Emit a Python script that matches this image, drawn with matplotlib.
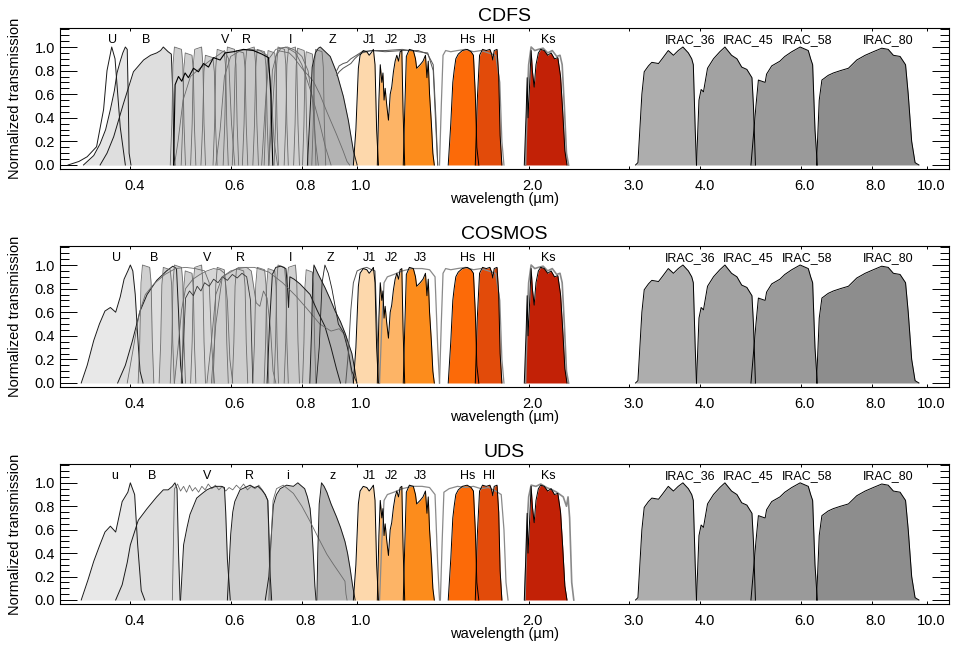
import matplotlib.pyplot as plt
from matplotlib.ticker import FixedLocator, FixedFormatter, MultipleLocator, NullLocator
from matplotlib.transforms import ScaledTranslation

plt.rcParams['font.family'] = ['Liberation Sans', 'DejaVu Sans']

# axis ticks (wavelength in micron, normalized transmission)
xtick_vals = [0.4, 0.6, 0.8, 1.0, 2.0, 3.0, 4.0, 6.0, 8.0, 10.0]
xtick_text = ['0.4', '0.6', '0.8', '1.0', '2.0', '3.0', '4.0', '6.0', '8.0', '10.0']
ytick_vals = [0.0, 0.2, 0.4, 0.6, 0.8, 1.0]
ytick_text = ['0.0', '0.2', '0.4', '0.6', '0.8', '1.0']

fields = ['CDFS', 'COSMOS', 'UDS']

# ---------------- FourStar medium bands (same in all fields) ----------------
J1_lam = [0.985, 0.995, 1.005, 1.012, 1.025, 1.040, 1.050, 1.058, 1.068, 1.075, 1.082, 1.090]
J1_t = [0.0, 0.30, 0.82, 0.93, 0.97, 0.96, 0.93, 0.95, 0.98, 0.85, 0.30, 0.0]
J2_lam = [1.085, 1.092, 1.098, 1.105, 1.110, 1.115, 1.120, 1.127, 1.135, 1.143, 1.150, 1.158,
          1.166, 1.174, 1.182, 1.190, 1.198, 1.204, 1.212]
J2_t = [0.0, 0.55, 0.85, 0.70, 0.78, 0.55, 0.65, 0.51, 0.38, 0.60, 0.66, 0.79,
        0.88, 0.93, 0.88, 0.96, 0.97, 0.45, 0.0]
J3_lam = [1.205, 1.212, 1.220, 1.235, 1.255, 1.266, 1.272, 1.290, 1.305, 1.318, 1.326,
          1.333, 1.340, 1.350, 1.358, 1.366]
J3_t = [0.0, 0.45, 0.92, 0.98, 0.97, 0.90, 0.82, 0.85, 0.88, 0.93, 0.74, 0.88, 0.60, 0.35, 0.10, 0.0]
Hs_lam = [1.445, 1.460, 1.472, 1.480, 1.490, 1.505, 1.530, 1.560, 1.585, 1.600, 1.612, 1.622, 1.635]
Hs_t = [0.0, 0.35, 0.70, 0.80, 0.90, 0.94, 0.97, 0.98, 0.96, 0.93, 0.60, 0.15, 0.0]
Hl_lam = [1.612, 1.625, 1.640, 1.660, 1.685, 1.710, 1.722, 1.730, 1.740, 1.760, 1.772, 1.782, 1.795]
Hl_t = [0.0, 0.55, 0.93, 0.98, 0.97, 0.98, 0.94, 0.89, 0.97, 0.98, 0.75, 0.25, 0.0]
Ks_lam = [1.965, 1.980, 1.988, 1.995, 2.005, 2.020, 2.030, 2.045, 2.060, 2.080, 2.100, 2.130,
          2.160, 2.190, 2.220, 2.250, 2.275, 2.295, 2.315, 2.335]
Ks_t = [0.0, 0.45, 0.74, 0.40, 0.62, 0.97, 0.80, 0.66, 0.85, 0.95, 0.98, 0.97,
        0.93, 0.95, 0.90, 0.91, 0.75, 0.45, 0.12, 0.0]

# ---------------- IRAC ----------------
I36_lam = [3.08, 3.11, 3.16, 3.19, 3.245, 3.29, 3.38, 3.43, 3.516, 3.59, 3.66, 3.73, 3.813, 3.865,
           3.89, 3.92, 3.94]
I36_t = [0.0, 0.02, 0.60, 0.79, 0.84, 0.87, 0.86, 0.90, 0.97, 0.93, 0.97, 1.0, 0.95, 0.90,
         0.85, 0.30, 0.0]
I45_lam = [3.94, 3.98, 4.015, 4.053, 4.12, 4.22, 4.33, 4.42, 4.54, 4.64, 4.73, 4.83, 4.93, 4.96, 5.00]
I45_t = [0.0, 0.55, 0.64, 0.62, 0.82, 0.90, 0.96, 1.0, 0.93, 0.90, 0.83, 0.81, 0.74, 0.50, 0.0]
I58_lam = [4.91, 5.01, 5.06, 5.20, 5.23, 5.34, 5.52, 5.63, 5.79, 5.99, 6.19, 6.25, 6.30, 6.36, 6.42]
I58_t = [0.0, 0.50, 0.72, 0.70, 0.77, 0.84, 0.88, 0.92, 0.96, 1.0, 0.97, 0.90, 0.85, 0.30, 0.0]
I80_lam = [6.40, 6.47, 6.54, 6.71, 6.85, 7.05, 7.28, 7.53, 7.79, 8.05, 8.33, 8.55, 8.73, 8.97,
           9.17, 9.27, 9.40, 9.53, 9.68]
I80_t = [0.0, 0.55, 0.72, 0.76, 0.78, 0.80, 0.82, 0.89, 0.93, 0.96, 0.99, 0.98, 0.93, 0.92,
         0.85, 0.60, 0.20, 0.02, 0.0]

nir_fill_colors = ['#FDD8AC', '#FDB466', '#FC8C1C', '#FC6A08', '#E24B0A', '#C22106']
irac_fill_colors = ['#ADADAD', '#A2A2A2', '#9A9A9A', '#8D8D8D']

# ---------------- Subaru intermediate bands ----------------
ia_lam = {
    'IA427': [0.4128, 0.4155, 0.4176, 0.4201, 0.4325, 0.4350, 0.4371, 0.4398],
    'IA464': [0.4493, 0.4522, 0.4543, 0.4570, 0.4700, 0.4727, 0.4748, 0.4777],
    'IA484': [0.4700, 0.4730, 0.4753, 0.4780, 0.4918, 0.4945, 0.4968, 0.4998],
    'IA505': [0.4912, 0.4942, 0.4965, 0.4993, 0.5131, 0.5159, 0.5182, 0.5212],
    'IA527': [0.5103, 0.5135, 0.5159, 0.5188, 0.5334, 0.5363, 0.5387, 0.5419],
    'IA550': [0.5320, 0.5356, 0.5384, 0.5417, 0.5583, 0.5616, 0.5644, 0.5680],
    'IA574': [0.5587, 0.5622, 0.5649, 0.5682, 0.5846, 0.5879, 0.5906, 0.5942],
    'IA598': [0.5820, 0.5858, 0.5887, 0.5921, 0.6095, 0.6129, 0.6158, 0.6196],
    'IA624': [0.6038, 0.6077, 0.6107, 0.6143, 0.6323, 0.6359, 0.6389, 0.6428],
    'IA651': [0.6290, 0.6333, 0.6365, 0.6404, 0.6598, 0.6637, 0.6670, 0.6712],
    'IA679': [0.6562, 0.6605, 0.6639, 0.6679, 0.6881, 0.6921, 0.6955, 0.6998],
    'IA709': [0.6868, 0.6909, 0.6940, 0.6978, 0.7168, 0.7206, 0.7237, 0.7278],
    'IA738': [0.7150, 0.7193, 0.7225, 0.7264, 0.7458, 0.7497, 0.7529, 0.7572],
    'IA767': [0.7447, 0.7494, 0.7531, 0.7575, 0.7794, 0.7837, 0.7874, 0.7921],
    'IA797': [0.7737, 0.7783, 0.7818, 0.7861, 0.8073, 0.8116, 0.8151, 0.8197],
    'IA827': [0.8021, 0.8066, 0.8100, 0.8141, 0.8347, 0.8388, 0.8422, 0.8467],
    'IA856': [0.8326, 0.8374, 0.8411, 0.8456, 0.8678, 0.8723, 0.8760, 0.8808],
}
ia_t = {
    'IA427': [0, 0.35, 0.85, 1.00, 0.98, 0.85, 0.35, 0],
    'IA464': [0, 0.34, 0.83, 0.98, 0.96, 0.83, 0.34, 0],
    'IA484': [0, 0.35, 0.85, 1.00, 0.98, 0.85, 0.35, 0],
    'IA505': [0, 0.33, 0.81, 0.95, 0.93, 0.81, 0.33, 0],
    'IA527': [0, 0.35, 0.85, 0.98, 1.00, 0.85, 0.35, 0],
    'IA550': [0, 0.33, 0.79, 0.93, 0.91, 0.79, 0.33, 0],
    'IA574': [0, 0.34, 0.83, 0.98, 0.96, 0.83, 0.34, 0],
    'IA598': [0, 0.35, 0.85, 1.00, 0.98, 0.85, 0.35, 0],
    'IA624': [0, 0.34, 0.82, 0.97, 0.95, 0.82, 0.34, 0],
    'IA651': [0, 0.35, 0.85, 0.98, 1.00, 0.85, 0.35, 0],
    'IA679': [0, 0.34, 0.83, 0.98, 0.96, 0.83, 0.34, 0],
    'IA709': [0, 0.34, 0.82, 0.97, 0.95, 0.82, 0.34, 0],
    'IA738': [0, 0.35, 0.85, 1.00, 0.98, 0.85, 0.35, 0],
    'IA767': [0, 0.35, 0.85, 0.98, 1.00, 0.85, 0.35, 0],
    'IA797': [0, 0.35, 0.84, 0.99, 0.97, 0.84, 0.35, 0],
    'IA827': [0, 0.34, 0.82, 0.96, 0.94, 0.82, 0.34, 0],
    'IA856': [0, 0.34, 0.83, 0.98, 0.96, 0.83, 0.34, 0],
}
cdfs_ia = ['IA484', 'IA505', 'IA527', 'IA550', 'IA574', 'IA598', 'IA624', 'IA651', 'IA679',
           'IA709', 'IA738', 'IA767', 'IA797', 'IA827', 'IA856']
cosmos_ia = ['IA427', 'IA464', 'IA484', 'IA505', 'IA527', 'IA574', 'IA624', 'IA679', 'IA709',
             'IA738', 'IA767', 'IA827']

# ---------------- CDFS optical ----------------
cdfs_U38_lam = [0.311, 0.325, 0.336, 0.349, 0.359, 0.364, 0.371, 0.376, 0.384, 0.392]
cdfs_U38_t = [0.0, 0.03, 0.07, 0.155, 0.47, 0.80, 1.0, 0.90, 0.32, 0.0]
cdfs_U_lam = [0.331, 0.345, 0.354, 0.362, 0.369, 0.375, 0.379, 0.384, 0.388, 0.392, 0.395,
              0.3965, 0.398, 0.401]
cdfs_U_t = [0.0, 0.08, 0.18, 0.30, 0.47, 0.63, 0.78, 0.88, 0.95, 1.0, 0.98, 0.60, 0.10, 0.0]
cdfs_B_lam = [0.354, 0.364, 0.374, 0.389, 0.405, 0.422, 0.434, 0.445, 0.452, 0.457, 0.466,
              0.472, 0.475, 0.477, 0.479]
cdfs_B_t = [0.0, 0.10, 0.24, 0.52, 0.79, 0.89, 0.93, 0.95, 0.97, 1.0, 0.96, 0.94, 0.60, 0.10, 0.0]
cdfs_wide_lam = [0.4763, 0.4793, 0.4858, 0.4924, 0.4990, 0.5058, 0.5162, 0.5267, 0.5375, 0.5485,
                 0.5597, 0.5749, 0.5866, 0.6067, 0.6317, 0.6577, 0.6804, 0.6990, 0.7056, 0.7112]
cdfs_wide_t = [0.0, 0.68, 0.75, 0.71, 0.78, 0.74, 0.82, 0.79, 0.86, 0.83, 0.91, 0.89, 0.95,
               0.96, 0.98, 0.97, 0.94, 0.91, 0.60, 0.0]
cdfs_V_lam = [0.478, 0.485, 0.495, 0.510, 0.530, 0.550, 0.570, 0.585, 0.595, 0.602, 0.610]
cdfs_V_t = [0.0, 0.20, 0.55, 0.75, 0.82, 0.88, 0.93, 0.97, 0.90, 0.35, 0.0]
cdfs_R_lam = [0.565, 0.575, 0.585, 0.600, 0.625, 0.650, 0.675, 0.695, 0.705, 0.715, 0.725]
cdfs_R_t = [0.0, 0.30, 0.75, 0.92, 0.97, 0.98, 0.97, 0.93, 0.70, 0.20, 0.0]
cdfs_I_lam = [0.700, 0.710, 0.720, 0.735, 0.755, 0.780, 0.800, 0.820, 0.835, 0.845, 0.855]
cdfs_I_t = [0.0, 0.45, 0.92, 0.99, 1.0, 0.97, 0.92, 0.80, 0.55, 0.20, 0.0]
cdfs_Z_lam = [0.818, 0.826, 0.834, 0.845, 0.855, 0.862, 0.875, 0.897, 0.921, 0.946, 0.965, 0.985, 1.0]
cdfs_Z_t = [0.0, 0.40, 0.83, 0.95, 0.99, 1.0, 0.97, 0.92, 0.78, 0.58, 0.38, 0.12, 0.0]
cdfs_slope1_lam = [0.700, 0.710, 0.725, 0.760, 0.775, 0.800, 0.838, 0.860, 0.885, 0.920, 0.945,
                   0.960, 0.970]
cdfs_slope1_t = [0.0, 0.80, 0.97, 0.95, 0.91, 0.82, 0.71, 0.60, 0.45, 0.26, 0.12, 0.03, 0.0]
cdfs_slope2_lam = [0.680, 0.690, 0.700, 0.720, 0.750, 0.780, 0.800, 0.830, 0.860, 0.880, 0.900]
cdfs_slope2_t = [0.0, 0.50, 0.90, 0.98, 1.0, 0.95, 0.85, 0.62, 0.35, 0.15, 0.0]
cdfs_J_lam = [0.921, 0.930, 0.945, 0.960, 0.975, 0.990, 1.005, 1.020, 1.060, 1.120,
              1.200, 1.280, 1.330, 1.360, 1.375, 1.385]
cdfs_J_t = [0.80, 0.84, 0.86, 0.87, 0.90, 0.92, 0.94, 0.96, 0.97, 0.97, 0.98, 0.96,
            0.95, 0.80, 0.30, 0.0]
cdfs_J2b_t = [0.76, 0.79, 0.82, 0.84, 0.86, 0.90, 0.93, 0.95, 0.97, 0.96, 0.97, 0.97,
              0.94, 0.85, 0.40, 0.0]
cdfs_H_lam = [1.395, 1.405, 1.415, 1.430, 1.460, 1.500, 1.550, 1.600, 1.650, 1.700, 1.750,
              1.780, 1.795, 1.810]
cdfs_H_t = [0.0, 0.50, 0.93, 0.97, 0.96, 0.97, 0.98, 0.96, 0.97, 0.95, 0.93, 0.70, 0.20, 0.0]
cdfs_K_lam = [1.975, 1.990, 2.000, 2.020, 2.050, 2.080, 2.120, 2.160, 2.200, 2.240, 2.270,
              2.290, 2.310, 2.330, 2.350]
cdfs_K_t = [0.0, 0.60, 0.85, 1.0, 0.97, 0.98, 0.99, 0.95, 0.97, 0.92, 0.93, 0.85, 0.50, 0.10, 0.0]

# ---------------- COSMOS optical ----------------
cosmos_U_lam = [0.328, 0.336, 0.345, 0.353, 0.361, 0.369, 0.377, 0.384, 0.390, 0.396, 0.400,
                0.404, 0.408, 0.412, 0.416, 0.421]
cosmos_U_t = [0.0, 0.15, 0.36, 0.50, 0.61, 0.64, 0.60, 0.73, 0.88, 0.95, 1.0, 0.95, 0.75,
              0.40, 0.10, 0.0]
cosmos_B_lam = [0.380, 0.392, 0.403, 0.416, 0.428, 0.445, 0.463, 0.475, 0.482, 0.486, 0.490, 0.494]
cosmos_B_t = [0.0, 0.15, 0.35, 0.61, 0.75, 0.87, 0.95, 0.99, 0.97, 0.60, 0.15, 0.0]
cosmos_g_lam = [0.395, 0.405, 0.415, 0.425, 0.440, 0.460, 0.480, 0.500, 0.520, 0.540, 0.550,
                0.556, 0.562]
cosmos_g_t = [0.0, 0.30, 0.60, 0.75, 0.84, 0.92, 0.97, 0.98, 0.97, 0.95, 0.85, 0.30, 0.0]
cosmos_V_lam = [0.478, 0.485, 0.492, 0.500, 0.515, 0.530, 0.545, 0.560, 0.575, 0.585, 0.592,
                0.598, 0.605]
cosmos_V_t = [0.0, 0.30, 0.62, 0.80, 0.88, 0.92, 0.95, 0.97, 0.96, 0.93, 0.70, 0.20, 0.0]
cosmos_wide_lam = [0.492, 0.500, 0.508, 0.516, 0.524, 0.532, 0.540, 0.550, 0.560, 0.570, 0.580,
                   0.592, 0.604, 0.616, 0.628, 0.640, 0.650, 0.656]
cosmos_wide_t = [0.0, 0.72, 0.78, 0.74, 0.82, 0.78, 0.85, 0.82, 0.88, 0.85, 0.90, 0.87, 0.92,
                 0.89, 0.93, 0.90, 0.70, 0.0]
cosmos_R_lam = [0.545, 0.555, 0.565, 0.580, 0.600, 0.620, 0.640, 0.652, 0.665, 0.675, 0.685,
                0.695, 0.705, 0.712, 0.720]
cosmos_R_t = [0.0, 0.35, 0.75, 0.90, 0.95, 0.97, 0.98, 0.95, 0.68, 0.65, 0.78, 0.72, 0.45, 0.10, 0.0]
cosmos_I_lam = [0.695, 0.702, 0.710, 0.720, 0.735, 0.750, 0.755, 0.758, 0.762, 0.775, 0.794,
                0.827, 0.850, 0.878, 0.900, 0.920, 0.935]
cosmos_I_t = [0.0, 0.50, 0.92, 0.98, 0.99, 0.97, 0.80, 0.64, 0.90, 0.88, 0.84, 0.75, 0.62,
              0.48, 0.30, 0.12, 0.0]
cosmos_Z_lam = [0.826, 0.832, 0.836, 0.840, 0.855, 0.878, 0.897, 0.915, 0.935, 0.953, 0.979,
                0.990, 0.999]
cosmos_Z_t = [0.0, 0.45, 0.88, 1.0, 0.92, 0.81, 0.71, 0.61, 0.52, 0.42, 0.25, 0.12, 0.0]
cosmos_z2_lam = [0.848, 0.858, 0.868, 0.878, 0.890, 0.903, 0.927, 0.946, 0.965, 0.979, 0.999]
cosmos_z2_t = [0.0, 0.30, 0.85, 1.0, 0.93, 0.80, 0.50, 0.43, 0.27, 0.10, 0.0]
cosmos_slope_lam = [0.555, 0.565, 0.580, 0.620, 0.660, 0.700, 0.740, 0.780, 0.820, 0.860, 0.900,
                    0.930, 0.955, 0.975, 0.985]
cosmos_slope_t = [0.0, 0.50, 0.90, 0.98, 0.98, 0.94, 0.85, 0.74, 0.62, 0.50, 0.44, 0.46,
                  0.40, 0.12, 0.0]
cosmos_Y_lam = [0.955, 0.965, 0.975, 0.985, 1.000, 1.020, 1.040, 1.060, 1.075, 1.085, 1.095]
cosmos_Y_t = [0.0, 0.25, 0.62, 0.85, 0.95, 0.97, 0.98, 0.96, 0.95, 0.40, 0.0]

# ---------------- UDS optical ----------------
uds_u_lam = [0.328, 0.337, 0.345, 0.353, 0.361, 0.369, 0.377, 0.382, 0.387, 0.396, 0.400,
             0.407, 0.412, 0.418, 0.424]
uds_u_t = [0.0, 0.17, 0.33, 0.46, 0.58, 0.63, 0.58, 0.71, 0.84, 0.92, 1.0, 0.90, 0.47, 0.08, 0.0]
uds_B_lam = [0.377, 0.387, 0.395, 0.400, 0.413, 0.428, 0.445, 0.457, 0.466, 0.474, 0.479,
             0.483, 0.486, 0.489]
uds_B_t = [0.0, 0.13, 0.32, 0.47, 0.68, 0.78, 0.88, 0.94, 0.94, 0.97, 1.0, 0.95, 0.40, 0.0]
uds_wide_lam = [0.474, 0.478, 0.484, 0.490, 0.496, 0.502, 0.508, 0.514, 0.520, 0.527, 0.534,
                0.541, 0.548, 0.556, 0.564, 0.572, 0.580, 0.588, 0.596, 0.605, 0.614, 0.623,
                0.632, 0.642, 0.652, 0.662, 0.672, 0.684, 0.697, 0.704]
uds_wide_t = [0.0, 0.95, 0.99, 0.93, 0.97, 0.92, 0.98, 0.93, 0.96, 0.92, 0.97, 0.94, 0.99,
              0.95, 0.98, 0.94, 0.97, 0.93, 0.96, 0.94, 0.98, 0.95, 0.99, 0.94, 0.97, 0.95,
              0.98, 0.93, 0.85, 0.0]
uds_V_lam = [0.490, 0.496, 0.503, 0.509, 0.516, 0.523, 0.535, 0.545, 0.556, 0.567, 0.578,
             0.585, 0.588, 0.592, 0.599]
uds_V_t = [0.0, 0.47, 0.62, 0.73, 0.80, 0.87, 0.91, 0.94, 0.96, 0.97, 0.97, 0.96, 0.75, 0.35, 0.0]
uds_R_lam = [0.592, 0.600, 0.605, 0.610, 0.623, 0.636, 0.649, 0.660, 0.670, 0.680, 0.690,
             0.697, 0.700, 0.704, 0.708]
uds_R_t = [0.0, 0.56, 0.75, 0.84, 0.94, 0.96, 0.98, 0.96, 0.97, 0.94, 0.90, 0.85, 0.60, 0.20, 0.0]
uds_i_lam = [0.690, 0.700, 0.706, 0.713, 0.722, 0.733, 0.752, 0.773, 0.787, 0.800, 0.809,
             0.818, 0.827, 0.833, 0.838, 0.843, 0.847]
uds_i_t = [0.0, 0.20, 0.50, 0.81, 0.90, 0.95, 0.98, 0.97, 1.0, 0.97, 0.95, 0.88, 0.78, 0.60,
           0.38, 0.12, 0.0]
uds_z_lam = [0.850, 0.853, 0.858, 0.866, 0.875, 0.885, 0.900, 0.920, 0.935, 0.952, 0.962,
             0.972, 0.982, 0.992]
uds_z_t = [0.0, 0.40, 0.82, 1.0, 0.97, 0.92, 0.82, 0.71, 0.62, 0.50, 0.40, 0.27, 0.12, 0.0]
uds_slope_lam = [0.700, 0.706, 0.712, 0.722, 0.742, 0.773, 0.800, 0.827, 0.855, 0.885, 0.910,
                 0.934, 0.952, 0.956, 0.960]
uds_slope_t = [0.0, 0.50, 0.85, 0.95, 0.98, 0.91, 0.80, 0.67, 0.53, 0.39, 0.30, 0.22, 0.16, 0.05, 0.0]
uds_J_lam = [1.095, 1.105, 1.115, 1.130, 1.160, 1.200, 1.250, 1.300, 1.340, 1.370, 1.385, 1.395]
uds_J_t = [0.0, 0.50, 0.85, 0.90, 0.92, 0.95, 0.97, 0.97, 0.96, 0.90, 0.30, 0.0]
uds_H_lam = [1.400, 1.410, 1.420, 1.450, 1.500, 1.550, 1.600, 1.650, 1.700, 1.750, 1.790,
             1.810, 1.825, 1.840]
uds_H_t = [0.0, 0.50, 0.92, 0.95, 0.97, 0.96, 0.97, 0.95, 0.96, 0.93, 0.90, 0.60, 0.15, 0.0]
uds_K_lam = [1.970, 1.985, 2.000, 2.020, 2.060, 2.100, 2.150, 2.200, 2.240, 2.270, 2.300,
             2.330, 2.345, 2.360, 2.380, 2.400]
uds_K_t = [0.0, 0.60, 0.88, 0.98, 0.97, 0.99, 0.96, 0.94, 0.92, 0.90, 0.88, 0.80, 0.88, 0.70,
           0.15, 0.0]

# band labels
nir_labels = ['J1', 'J2', 'J3', 'Hs', 'Hl', 'Ks', 'IRAC_36', 'IRAC_45', 'IRAC_58', 'IRAC_80']
nir_label_lam = [1.052, 1.150, 1.290, 1.566, 1.706, 2.169, 3.84, 4.86, 6.17, 8.55]
cdfs_labels = ['U', 'B', 'V', 'R', 'I', 'Z']
cdfs_label_lam = [0.373, 0.427, 0.587, 0.640, 0.763, 0.906]
cosmos_labels = ['U', 'B', 'V', 'R', 'I', 'Z']
cosmos_label_lam = [0.379, 0.440, 0.545, 0.623, 0.763, 0.899]
uds_labels = ['u', 'B', 'V', 'R', 'i', 'z']
uds_label_lam = [0.376, 0.437, 0.545, 0.647, 0.755, 0.906]

IA_FACE = '#D0D0D0'
OPT_EDGE = '#1A1A1A'
IA_EDGE = '#6A6A6A'
BROAD_EDGE = '#8A8A8A'

# (lam, trans, facecolor) for filled curves; (lam, trans, edgecolor, lw) for lines
nir_filled = list(zip([J1_lam, J2_lam, J3_lam, Hs_lam, Hl_lam, Ks_lam],
                      [J1_t, J2_t, J3_t, Hs_t, Hl_t, Ks_t], nir_fill_colors))
irac_filled = list(zip([I36_lam, I45_lam, I58_lam, I80_lam],
                       [I36_t, I45_t, I58_t, I80_t], irac_fill_colors))

panels = {
    'CDFS': dict(
        filled=[(cdfs_U_lam, cdfs_U_t, '#E6E6E6'), (cdfs_B_lam, cdfs_B_t, '#DEDEDE'),
                (cdfs_wide_lam, cdfs_wide_t, '#D9D9D9')]
               + [(ia_lam[k], ia_t[k], IA_FACE) for k in cdfs_ia]
               + [(cdfs_V_lam, cdfs_V_t, '#CFCFCF'), (cdfs_R_lam, cdfs_R_t, '#C8C8C8'),
                  (cdfs_I_lam, cdfs_I_t, '#D0D0D0'), (cdfs_Z_lam, cdfs_Z_t, '#B3B3B3')],
        lines=[(cdfs_U38_lam, cdfs_U38_t, OPT_EDGE, 0.7), (cdfs_U_lam, cdfs_U_t, OPT_EDGE, 0.7),
               (cdfs_B_lam, cdfs_B_t, OPT_EDGE, 0.7)]
              + [(ia_lam[k], ia_t[k], IA_EDGE, 0.6) for k in cdfs_ia]
              + [(cdfs_V_lam, cdfs_V_t, IA_EDGE, 0.6), (cdfs_R_lam, cdfs_R_t, IA_EDGE, 0.6),
                 (cdfs_I_lam, cdfs_I_t, IA_EDGE, 0.6), (cdfs_slope1_lam, cdfs_slope1_t, IA_EDGE, 0.6),
                 (cdfs_slope2_lam, cdfs_slope2_t, IA_EDGE, 0.6), (cdfs_Z_lam, cdfs_Z_t, OPT_EDGE, 0.7),
                 (cdfs_wide_lam, cdfs_wide_t, '#000000', 0.8),
                 (cdfs_J_lam, cdfs_J_t, '#555555', 0.7), (cdfs_J_lam, cdfs_J2b_t, '#555555', 0.7),
                 (cdfs_H_lam, cdfs_H_t, BROAD_EDGE, 0.9), (cdfs_K_lam, cdfs_K_t, BROAD_EDGE, 1.2)],
        labels=cdfs_labels, label_lam=cdfs_label_lam),
    'COSMOS': dict(
        filled=[(cosmos_U_lam, cosmos_U_t, '#E8E8E8'), (cosmos_B_lam, cosmos_B_t, '#DEDEDE')]
               + [(ia_lam[k], ia_t[k], IA_FACE) for k in cosmos_ia]
               + [(cosmos_V_lam, cosmos_V_t, '#D6D6D6'), (cosmos_R_lam, cosmos_R_t, '#CECECE'),
                  (cosmos_I_lam, cosmos_I_t, '#C9C9C9'), (cosmos_Z_lam, cosmos_Z_t, '#B2B2B2')],
        lines=[(cosmos_U_lam, cosmos_U_t, OPT_EDGE, 0.7), (cosmos_B_lam, cosmos_B_t, OPT_EDGE, 0.7),
               (cosmos_g_lam, cosmos_g_t, IA_EDGE, 0.6)]
              + [(ia_lam[k], ia_t[k], IA_EDGE, 0.6) for k in cosmos_ia]
              + [(cosmos_V_lam, cosmos_V_t, IA_EDGE, 0.6), (cosmos_wide_lam, cosmos_wide_t, '#333333', 0.6),
                 (cosmos_R_lam, cosmos_R_t, IA_EDGE, 0.6), (cosmos_I_lam, cosmos_I_t, OPT_EDGE, 0.7),
                 (cosmos_slope_lam, cosmos_slope_t, IA_EDGE, 0.6), (cosmos_Z_lam, cosmos_Z_t, OPT_EDGE, 0.7),
                 (cosmos_z2_lam, cosmos_z2_t, OPT_EDGE, 0.6), (cosmos_Y_lam, cosmos_Y_t, '#555555', 0.7),
                 (uds_J_lam, uds_J_t, BROAD_EDGE, 0.9), (cdfs_H_lam, cdfs_H_t, BROAD_EDGE, 0.9),
                 (cdfs_K_lam, cdfs_K_t, BROAD_EDGE, 1.2)],
        labels=cosmos_labels, label_lam=cosmos_label_lam),
    'UDS': dict(
        filled=[(uds_u_lam, uds_u_t, '#E8E8E8'), (uds_B_lam, uds_B_t, '#DFDFDF'),
                (uds_V_lam, uds_V_t, '#D5D5D5'), (uds_R_lam, uds_R_t, '#CDCDCD'),
                (uds_i_lam, uds_i_t, '#C8C8C8'), (uds_z_lam, uds_z_t, '#B4B4B4')],
        lines=[(uds_u_lam, uds_u_t, OPT_EDGE, 0.7), (uds_B_lam, uds_B_t, OPT_EDGE, 0.7),
               (uds_wide_lam, uds_wide_t, IA_EDGE, 0.6), (uds_V_lam, uds_V_t, OPT_EDGE, 0.7),
               (uds_R_lam, uds_R_t, OPT_EDGE, 0.7), (uds_i_lam, uds_i_t, OPT_EDGE, 0.7),
               (uds_slope_lam, uds_slope_t, IA_EDGE, 0.6), (uds_z_lam, uds_z_t, OPT_EDGE, 0.7),
               (uds_J_lam, uds_J_t, BROAD_EDGE, 0.9), (uds_H_lam, uds_H_t, BROAD_EDGE, 0.9),
               (uds_K_lam, uds_K_t, BROAD_EDGE, 1.2)],
        labels=uds_labels, label_lam=uds_label_lam),
}

ax_rects = [[0.0626, 0.7400, 0.9280, 0.2169],
            [0.0626, 0.4046, 0.9280, 0.2169],
            [0.0626, 0.0708, 0.9280, 0.2154]]

fig = plt.figure(figsize=(9.58, 6.5), dpi=100)

for name, rect in zip(fields, ax_rects):
    p = panels[name]
    ax = fig.add_axes(rect)
    ax.set_xscale('log')

    for lam, t, face in p['filled'] + nir_filled + irac_filled:
        ax.fill_between(lam, 0, t, color=face, lw=0)
    for lam, t, edge, lw in p['lines']:
        ax.plot(lam, t, color=edge, lw=lw)
    for lam, t, face in nir_filled + irac_filled:
        ax.plot(lam, t, color='black', lw=0.7)

    for txt, lam in zip(p['labels'] + nir_labels, p['label_lam'] + nir_label_lam):
        ax.text(lam, 1.035, txt, ha='center', va='baseline', fontsize=9)

    ax.set_xlim(0.301, 10.93)
    ax.set_ylim(-0.034, 1.161)
    ax.xaxis.set_major_locator(FixedLocator(xtick_vals))
    ax.xaxis.set_major_formatter(FixedFormatter(xtick_text))
    ax.xaxis.set_minor_locator(NullLocator())
    ax.yaxis.set_major_locator(FixedLocator(ytick_vals))
    ax.yaxis.set_major_formatter(FixedFormatter(ytick_text))
    ax.yaxis.set_minor_locator(MultipleLocator(0.05))
    ax.tick_params(axis='x', which='major', direction='in', length=2.2, width=0.7,
                   top=True, bottom=True, pad=7.5, labelsize=10.5)
    ax.tick_params(axis='y', which='major', direction='in', length=12.5, width=0.7,
                   left=True, right=True, pad=3.5, labelsize=10.5)
    ax.tick_params(axis='y', which='minor', direction='in', length=6.2, width=0.7,
                   left=True, right=True)
    for lbl in ax.get_xticklabels():
        lbl.set_transform(lbl.get_transform() + ScaledTranslation(3 / 72, 0, fig.dpi_scale_trans))
    for sp in ax.spines.values():
        sp.set_linewidth(0.8)

    ax.set_title(name, fontsize=14, pad=5)
    ax.set_xlabel('wavelength (µm)', fontsize=10.5)
    ax.xaxis.set_label_coords(0.5, -0.165)
    ax.set_ylabel('Normalized transmission', fontsize=10.5)
    ax.yaxis.set_label_coords(-0.043, 0.5)

fig.savefig('out.png', dpi=100)
